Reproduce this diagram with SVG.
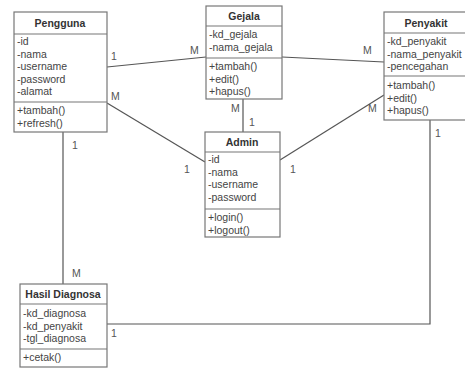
<svg xmlns="http://www.w3.org/2000/svg" width="465" height="368" viewBox="0 0 465 368">
<style>
.box{fill:#fff;stroke:#777;stroke-width:1.2}
.sep{stroke:#777;stroke-width:1.2}
.t{font-family:"Liberation Sans",Arial,sans-serif;font-size:10.5px;fill:#444}
.h{font-family:"Liberation Sans",Arial,sans-serif;font-size:10.5px;font-weight:bold;fill:#333;text-anchor:middle}
.c{fill:none;stroke:#555;stroke-width:1.2}
.m{font-family:"Liberation Sans",Arial,sans-serif;font-size:10.5px;fill:#555}
</style>
<rect width="465" height="368" fill="#fff"/>
<g id="connectors">
<line class="c" x1="107" y1="67" x2="206" y2="57"/>
<line class="c" x1="282" y1="57" x2="384" y2="62"/>
<line class="c" x1="243" y1="99" x2="243" y2="132"/>
<line class="c" x1="107" y1="103" x2="205" y2="162"/>
<line class="c" x1="280" y1="160" x2="384" y2="95"/>
<line class="c" x1="63" y1="132" x2="63" y2="284"/>
<polyline class="c" points="430,120 430,324 107,324"/>
<text class="m" x="111" y="60">1</text>
<text class="m" x="190" y="54">M</text>
<text class="m" x="363" y="54">M</text>
<text class="m" x="231" y="112">M</text>
<text class="m" x="249" y="126">1</text>
<text class="m" x="111" y="100">M</text>
<text class="m" x="184" y="173">1</text>
<text class="m" x="290" y="173">1</text>
<text class="m" x="368" y="112">M</text>
<text class="m" x="72" y="149">1</text>
<text class="m" x="72" y="277">M</text>
<text class="m" x="435" y="137">1</text>
<text class="m" x="111" y="337">1</text>
</g>
<g id="pengguna">
<rect class="box" x="14" y="12" width="93" height="120"/>
<line class="sep" x1="14" y1="34" x2="107" y2="34"/>
<line class="sep" x1="14" y1="102" x2="107" y2="102"/>
<text class="h" x="60" y="27">Pengguna</text>
<text class="t" x="17" y="45">-id</text>
<text class="t" x="17" y="57.5">-nama</text>
<text class="t" x="17" y="70">-username</text>
<text class="t" x="17" y="82.5">-password</text>
<text class="t" x="17" y="95">-alamat</text>
<text class="t" x="17" y="114">+tambah()</text>
<text class="t" x="17" y="126.5">+refresh()</text>
</g>
<g id="gejala">
<rect class="box" x="206" y="6" width="76" height="93"/>
<line class="sep" x1="206" y1="26" x2="282" y2="26"/>
<line class="sep" x1="206" y1="58" x2="282" y2="58"/>
<text class="h" x="244" y="20">Gejala</text>
<text class="t" x="209" y="38">-kd_gejala</text>
<text class="t" x="209" y="50.5">-nama_gejala</text>
<text class="t" x="209" y="70">+tambah()</text>
<text class="t" x="209" y="82.5">+edit()</text>
<text class="t" x="209" y="95">+hapus()</text>
</g>
<g id="penyakit">
<rect class="box" x="384" y="12" width="85" height="108"/>
<line class="sep" x1="384" y1="33" x2="469" y2="33"/>
<line class="sep" x1="384" y1="76" x2="469" y2="76"/>
<text class="h" x="426" y="27">Penyakit</text>
<text class="t" x="387" y="45">-kd_penyakit</text>
<text class="t" x="387" y="57.5">-nama_penyakit</text>
<text class="t" x="387" y="70">-pencegahan</text>
<text class="t" x="387" y="89">+tambah()</text>
<text class="t" x="387" y="101.5">+edit()</text>
<text class="t" x="387" y="114">+hapus()</text>
</g>
<g id="admin">
<rect class="box" x="205" y="132" width="75" height="105"/>
<line class="sep" x1="205" y1="152" x2="280" y2="152"/>
<line class="sep" x1="205" y1="209" x2="280" y2="209"/>
<text class="h" x="242" y="146">Admin</text>
<text class="t" x="208" y="163">-id</text>
<text class="t" x="208" y="175.5">-nama</text>
<text class="t" x="208" y="188">-username</text>
<text class="t" x="208" y="200.5">-password</text>
<text class="t" x="208" y="221">+login()</text>
<text class="t" x="208" y="233.5">+logout()</text>
</g>
<g id="hasil-diagnosa">
<rect class="box" x="20" y="284" width="87" height="83"/>
<line class="sep" x1="20" y1="304" x2="107" y2="304"/>
<line class="sep" x1="20" y1="349" x2="107" y2="349"/>
<text class="h" x="63" y="298">Hasil Diagnosa</text>
<text class="t" x="23" y="317">-kd_diagnosa</text>
<text class="t" x="23" y="329.5">-kd_penyakit</text>
<text class="t" x="23" y="342">-tgl_diagnosa</text>
<text class="t" x="23" y="361">+cetak()</text>
</g>
</svg>
